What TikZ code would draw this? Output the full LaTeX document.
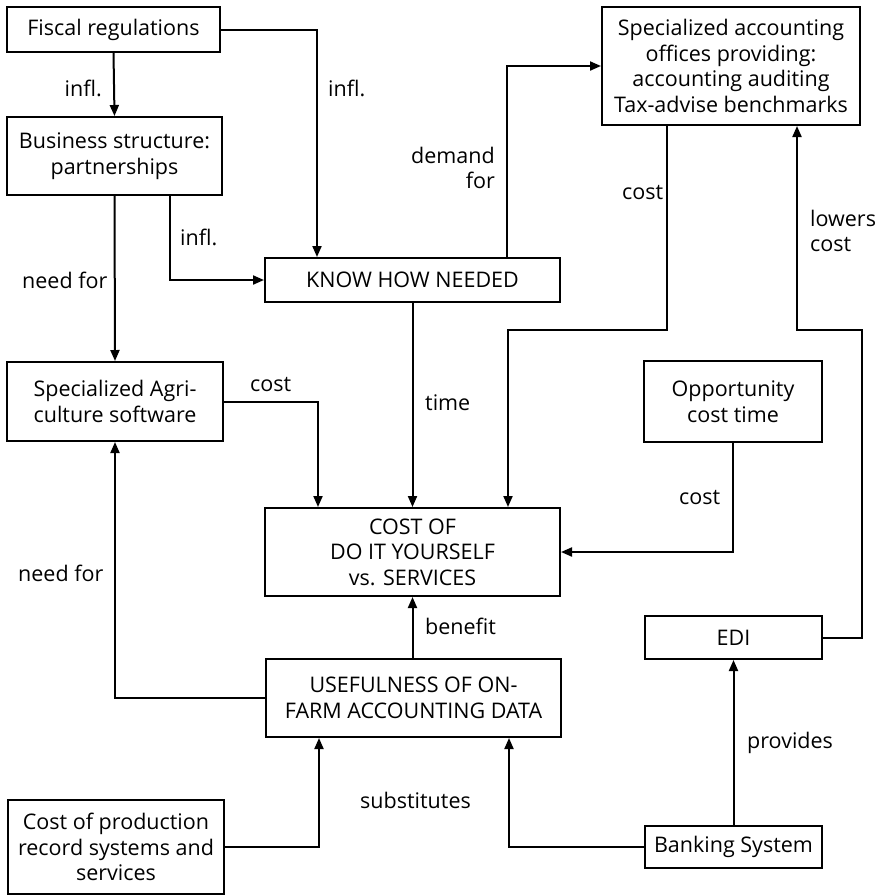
\documentclass[tikz,border=0pt]{standalone}
\usepackage{fontspec}
\setmainfont{Open Sans}
\usetikzlibrary{arrows.meta}
\begin{document}
\begin{tikzpicture}[x=1pt,y=-1pt,
  txt/.style={font=\fontsize{21.5}{25.5}\selectfont},
  box/.style={draw, line width=2pt, align=center, inner sep=0pt, txt},
  conn/.style={line width=2pt, -{Triangle[length=11pt,width=9pt]}},
  lbl/.style={inner sep=0pt, txt},
]
\useasboundingbox (0,0) rectangle (879,895);

% boxes
\node[box, minimum width=213pt, minimum height=45pt] (fiscal)   at (113.5,29.5) {Fiscal regulations};
\node[box, minimum width=215pt, minimum height=78pt] (business) at (114.5,156) {Business structure:\\partnerships};
\node[box, minimum width=295pt, minimum height=44pt] (knowhow)  at (412.5,280) {KNOW HOW NEEDED};
\node[box, minimum width=258pt, minimum height=118pt] (spacc)   at (731,66) {Specialized accounting\\offices providing:\\accounting auditing\\Tax-advise benchmarks};
\node[box, minimum width=216pt, minimum height=79pt] (agri)     at (115,401.5) {Specialized Agri-\\culture software};
\node[box, minimum width=295pt, minimum height=88pt] (cost)     at (412.5,552) {COST OF\\DO IT YOURSELF\\vs. SERVICES};
\node[box, minimum width=178pt, minimum height=81pt] (opp)      at (733,401.5) {Opportunity\\cost time};
\node[box, minimum width=295pt, minimum height=78pt] (useful)   at (413.5,698) {USEFULNESS OF ON-\\FARM ACCOUNTING DATA};
\node[box, minimum width=177pt, minimum height=43pt] (edi)      at (733.5,637.5) {EDI};
\node[box, minimum width=216pt, minimum height=94pt] (prod)     at (116,847) {Cost of production\\record systems and\\services};
\node[box, minimum width=177pt, minimum height=42pt] (bank)     at (733.5,847) {Banking System};

% connectors
\draw[conn] (fiscal.south) -- (business.north);
\draw[conn] (fiscal.east) -| (knowhow.north -| 317,0);
\draw[conn] (business.south -| 170,0) |- (knowhow.west);
\draw[conn] (business.south) -- (agri.north);
\draw[conn] (knowhow.north -| 507,0) |- (spacc.west);
\draw[conn] (knowhow.south) -- (cost.north);
\draw[conn] (agri.east) -| (cost.north -| 318,0);
\draw[conn] (spacc.south -| 667,0) -- (667,330) -| (cost.north -| 508,0);
\draw[conn] (opp.south) |- (cost.east);
\draw[conn] (cost.south |- useful.north) -- (cost.south);
\draw[conn] (useful.west) -| (agri.south);
\draw[conn] (prod.east) -| (useful.south -| 319,0);
\draw[conn] (bank.west) -| (useful.south -| 509,0);
\draw[conn] (bank.north) -- (edi.south);
\draw[conn] (edi.east) -- (862,637.5) -- (862,330) -| (spacc.south -| 797,0);

% connector labels
\node[lbl, anchor=east] (l-infl1) at (102,88) {infl.};
\node[lbl, anchor=west] (l-infl2) at (328,88) {infl.};
\node[lbl, anchor=west] (l-infl3) at (180,237) {infl.};
\node[lbl, anchor=west] (l-need1) at (22,280) {need for};
\node[lbl, anchor=east, align=right] (l-demand) at (495,168) {demand\\for};
\node[lbl, anchor=west] (l-time) at (425,403) {time};
\node[lbl, anchor=west] (l-cost1) at (250,385) {cost};
\node[lbl, anchor=west] (l-cost2) at (622,193) {cost};
\node[lbl, anchor=west, align=left] (l-lowers) at (810,231) {lowers\\cost};
\node[lbl, anchor=west] (l-cost3) at (679,498) {cost};
\node[lbl, anchor=west] (l-benefit) at (425,626) {benefit};
\node[lbl, anchor=west] (l-need2) at (18,573) {need for};
\node[lbl, anchor=west] (l-subst) at (360,800) {substitutes};
\node[lbl, anchor=west] (l-provides) at (747,743) {provides};
\end{tikzpicture}
\end{document}
